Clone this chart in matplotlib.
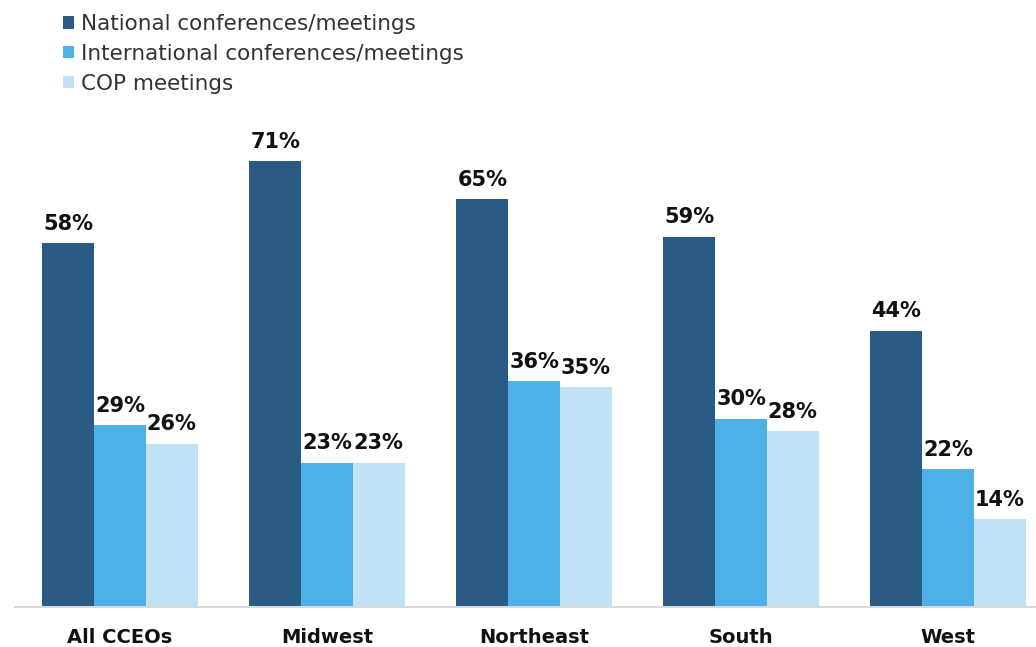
import matplotlib.pyplot as plt
import numpy as np

categories = ["All CCEOs", "Midwest", "Northeast", "South", "West"]
series_names = ["National conferences/meetings",
                "International conferences/meetings",
                "COP meetings"]
national = [58, 71, 65, 59, 44]
international = [29, 23, 36, 30, 22]
cop = [26, 23, 35, 28, 14]
colors = ["#2A5B84", "#4FB0E8", "#C0E2F5"]

fig = plt.figure(figsize=(10.36, 6.47), dpi=100)
ax = fig.add_axes([0.0, 0.0618, 1.0, 0.776])

x = np.arange(len(categories))
w = 0.25
handles = []
for i, (vals, col) in enumerate(zip([national, international, cop], colors)):
    bars = ax.bar(x + (i - 1) * w, vals, width=w, color=col, label=series_names[i])
    handles.append(bars)
    for xi, v in zip(x + (i - 1) * w, vals):
        ax.text(xi, v + 1.5, f"{v}%", ha="center", va="bottom",
                fontsize=15, fontweight="bold", color="#111111")

ax.set_xlim(-0.58, 4.425)
ax.set_ylim(0, 80)
ax.set_yticks([])
ax.set_xticks(x)
ax.set_xticklabels(categories, fontsize=14, fontweight="bold", color="#111111")
ax.tick_params(axis="x", length=0, pad=15)
for s in ["top", "right", "left"]:
    ax.spines[s].set_visible(False)
ax.spines["bottom"].set_color("#D9D9D9")
ax.spines["bottom"].set_linewidth(1.5)
ax.spines["bottom"].set_bounds(-0.507, 4.425)

fig.legend(handles=handles, loc="upper left", bbox_to_anchor=(0.042, 1.008),
           frameon=False, fontsize=15.5, handlelength=0.5, handleheight=0.5,
           handletextpad=0.35, labelspacing=0.45, labelcolor="#333333")

fig.savefig("out.png", dpi=100)
